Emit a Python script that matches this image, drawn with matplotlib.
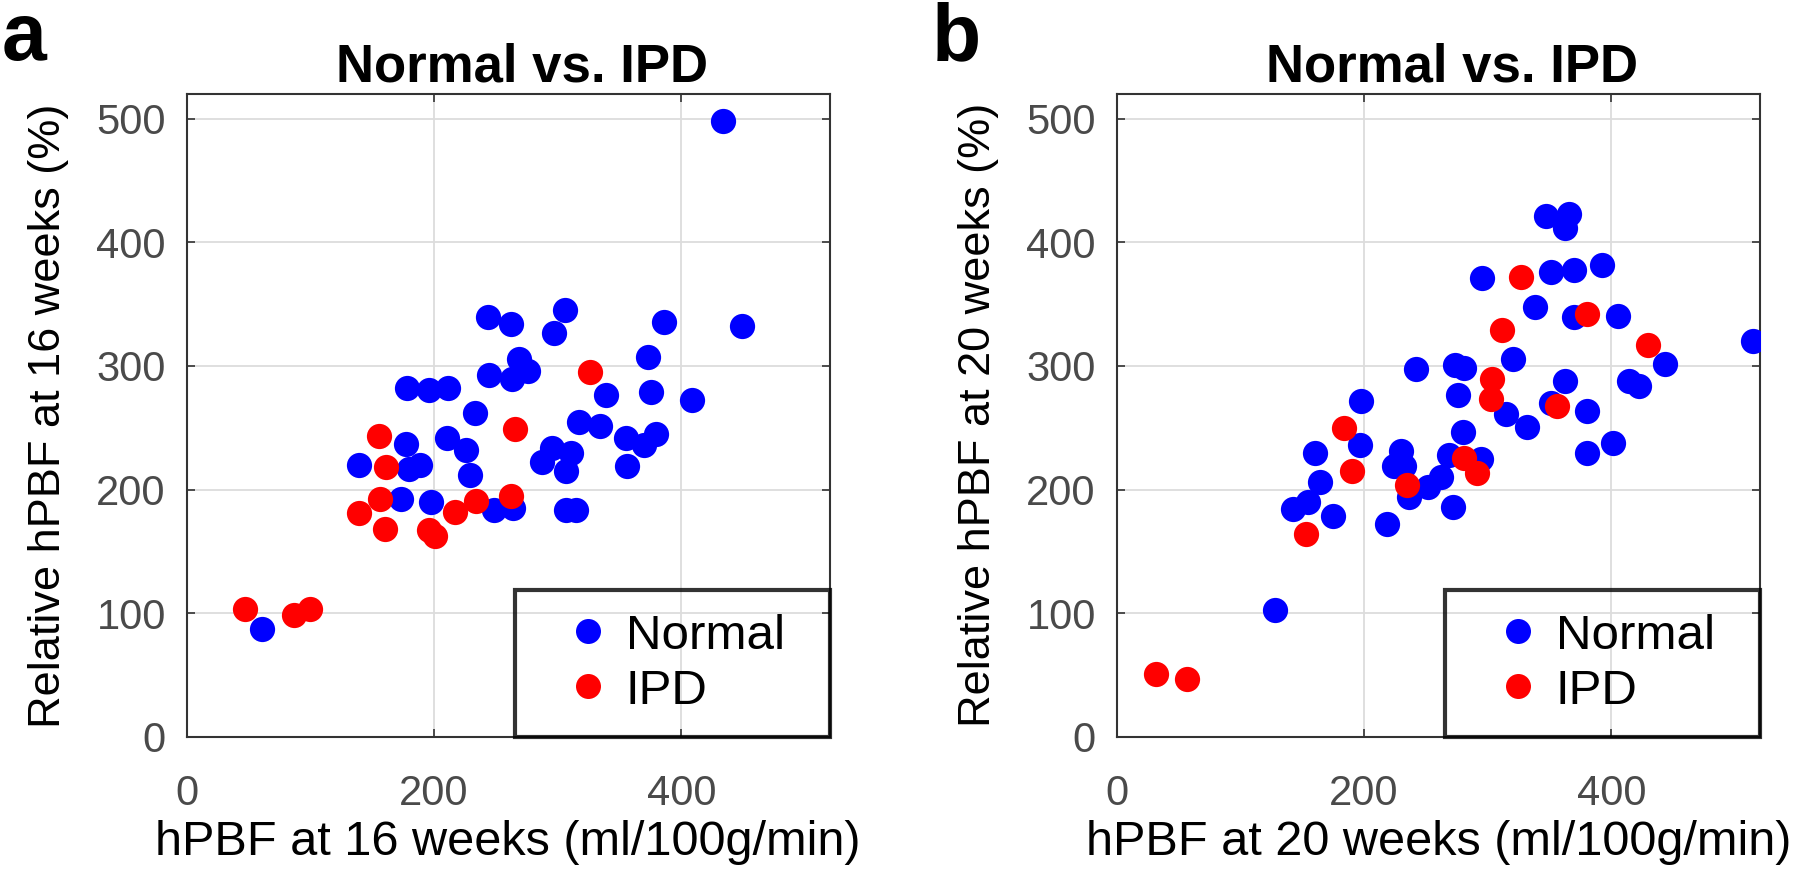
import matplotlib
matplotlib.use("Agg")
import matplotlib.pyplot as plt
from matplotlib.lines import Line2D
from matplotlib.legend_handler import HandlerLine2D

plt.rcParams['font.family'] = ['Liberation Sans', 'DejaVu Sans']

# ---- data: panel a (16 weeks) ----
a_normal_x = [433.6, 449.4, 243.7, 262.4, 305.8, 297.1, 386.3, 372.9, 268.6, 275.8,
              262.8, 244.8, 178.0, 196.0, 211.5, 339.0, 375.8, 408.7, 233.2, 317.3,
              334.6, 210.8, 225.6, 177.3, 355.2, 369.7, 379.4, 295.3, 310.5, 287.4,
              306.9, 139.3, 179.8, 188.4, 228.9, 355.9, 173.6, 197.5, 248.7, 263.9,
              306.5, 314.8, 60.6]
a_normal_y = [498.5, 331.9, 339.5, 333.7, 345.2, 326.4, 335.5, 307.6, 305.8, 296.1,
              289.6, 292.5, 282.0, 280.5, 282.0, 276.5, 279.0, 272.6, 261.7, 254.5,
              251.6, 241.5, 231.7, 236.8, 241.5, 236.4, 244.7, 233.5, 229.9, 222.0,
              215.1, 220.1, 216.2, 220.1, 211.8, 219.1, 192.3, 189.8, 183.3, 185.4,
              183.6, 183.6, 87.5]
a_ipd_x = [326.0, 265.3, 155.2, 161.0, 156.0, 139.7, 160.7, 195.7, 200.7, 217.3,
           234.0, 262.1, 46.9, 86.6, 99.6]
a_ipd_y = [295.0, 249.0, 243.3, 218.0, 192.3, 180.8, 168.1, 167.4, 162.3, 181.5,
           190.9, 194.5, 103.4, 98.7, 103.4]

# ---- data: panel b (20 weeks) ----
b_normal_x = [346.8, 365.8, 362.8, 351.6, 369.5, 392.5, 295.1, 337.9, 369.5, 405.5,
              514.4, 320.4, 443.8, 242.0, 273.6, 281.0, 362.8, 414.4, 422.2, 276.2,
              197.7, 351.6, 314.8, 331.9, 380.6, 280.3, 197.0, 160.6, 380.6, 401.1,
              229.7, 224.5, 232.7, 268.7, 294.4, 164.3, 262.0, 252.0, 236.4, 154.6,
              142.7, 174.7, 271.7, 218.6, 127.9]
b_normal_y = [421.5, 423.3, 411.4, 375.6, 377.8, 381.7, 370.9, 347.4, 339.8, 340.5,
              319.9, 305.5, 301.5, 297.1, 300.4, 298.6, 287.4, 287.4, 283.4, 276.5,
              271.5, 269.7, 261.4, 250.5, 263.5, 246.5, 235.7, 229.9, 229.2, 237.5,
              231.0, 219.1, 218.7, 228.1, 224.5, 206.4, 210.4, 201.7, 193.8, 190.1,
              184.0, 178.2, 186.2, 171.7, 102.7]
b_ipd_x = [326.7, 380.6, 311.9, 429.7, 303.3, 302.6, 355.7, 183.6, 190.3, 281.0,
           291.0, 234.5, 153.1, 31.6, 56.5]
b_ipd_y = [372.3, 342.3, 329.3, 317.0, 289.6, 272.9, 267.9, 249.8, 215.1, 225.2,
           213.6, 203.9, 164.1, 50.6, 47.0]

panel_letters = ['a', 'b']
titles = ['Normal vs. IPD', 'Normal vs. IPD']
xlabels = ['hPBF at 16 weeks (ml/100g/min)', 'hPBF at 20 weeks (ml/100g/min)']
ylabels = ['Relative hPBF at 16 weeks (%)', 'Relative hPBF at 20 weeks (%)']
series_names = ['Normal', 'IPD']
xticks = [0, 200, 400]
yticks = [0, 100, 200, 300, 400, 500]

fig = plt.figure(figsize=(18, 8.85), dpi=100)
W, H = 1800, 885
ax_lefts = [186.7, 1116.7]
ax_w, ax_top, ax_bot = 643.0, 94.0, 736.7

panels = [(a_normal_x, a_normal_y, a_ipd_x, a_ipd_y),
          (b_normal_x, b_normal_y, b_ipd_x, b_ipd_y)]
title_cx = [521.6, 1451.6]
letter_x = [2, 932]

tick_gray = '#4a4a4a'
for i, (nx, ny, ix, iy) in enumerate(panels):
    ax = fig.add_axes([ax_lefts[i] / W, 1 - ax_bot / H, ax_w / W, (ax_bot - ax_top) / H])
    ax.scatter(nx, ny, s=330, color='#0000ff', linewidths=0, zorder=3)
    ax.scatter(ix, iy, s=330, color='#ff0000', linewidths=0, zorder=3)
    ax.set_xlim(0, 520)
    ax.set_ylim(0, 520)
    ax.set_xticks(xticks)
    ax.set_yticks(yticks)
    ax.grid(True, color='#dcdcdc', linewidth=1.3, zorder=0)
    ax.set_axisbelow(True)
    for sp in ax.spines.values():
        sp.set_color('#333333')
        sp.set_linewidth(1.5)
    ax.tick_params(axis='both', direction='in', length=6, width=1.2, color='#333333',
                   labelsize=30, labelcolor=tick_gray, top=True, right=True)
    ax.tick_params(axis='x', pad=27)
    ax.tick_params(axis='y', pad=15)
    ax.set_xlabel(xlabels[i], fontsize=35, labelpad=4)
    ax.set_ylabel(ylabels[i], fontsize=32.5, labelpad=20)

    handles = [Line2D([], [], marker='o', linestyle='none', markersize=18,
                      markerfacecolor=c, markeredgewidth=0)
               for c in ['#0000ff', '#ff0000']]
    leg = ax.legend(handles, series_names, loc='lower left',
                    bbox_to_anchor=(0.51, 0.0, 0.49, 0.2), mode='expand',
                    borderaxespad=0, fontsize=35.5, frameon=True, fancybox=False,
                    borderpad=0.47, labelspacing=0.2, handlelength=1.3,
                    handletextpad=0.48,
                    handler_map={Line2D: HandlerLine2D(xpad=0.74)})
    fr = leg.get_frame()
    fr.set_edgecolor('black')
    fr.set_linewidth(3)
    fr.set_facecolor('none')
    leg.set_zorder(5)

    fig.text(title_cx[i] / W, 1 - 81 / H, titles[i], ha='center', va='baseline',
             fontsize=38, fontweight='bold')
    fig.text(letter_x[i] / W, 1 - 60 / H, panel_letters[i], ha='left', va='baseline',
             fontsize=58, fontweight='bold')

fig.savefig('out.png', dpi=100)
